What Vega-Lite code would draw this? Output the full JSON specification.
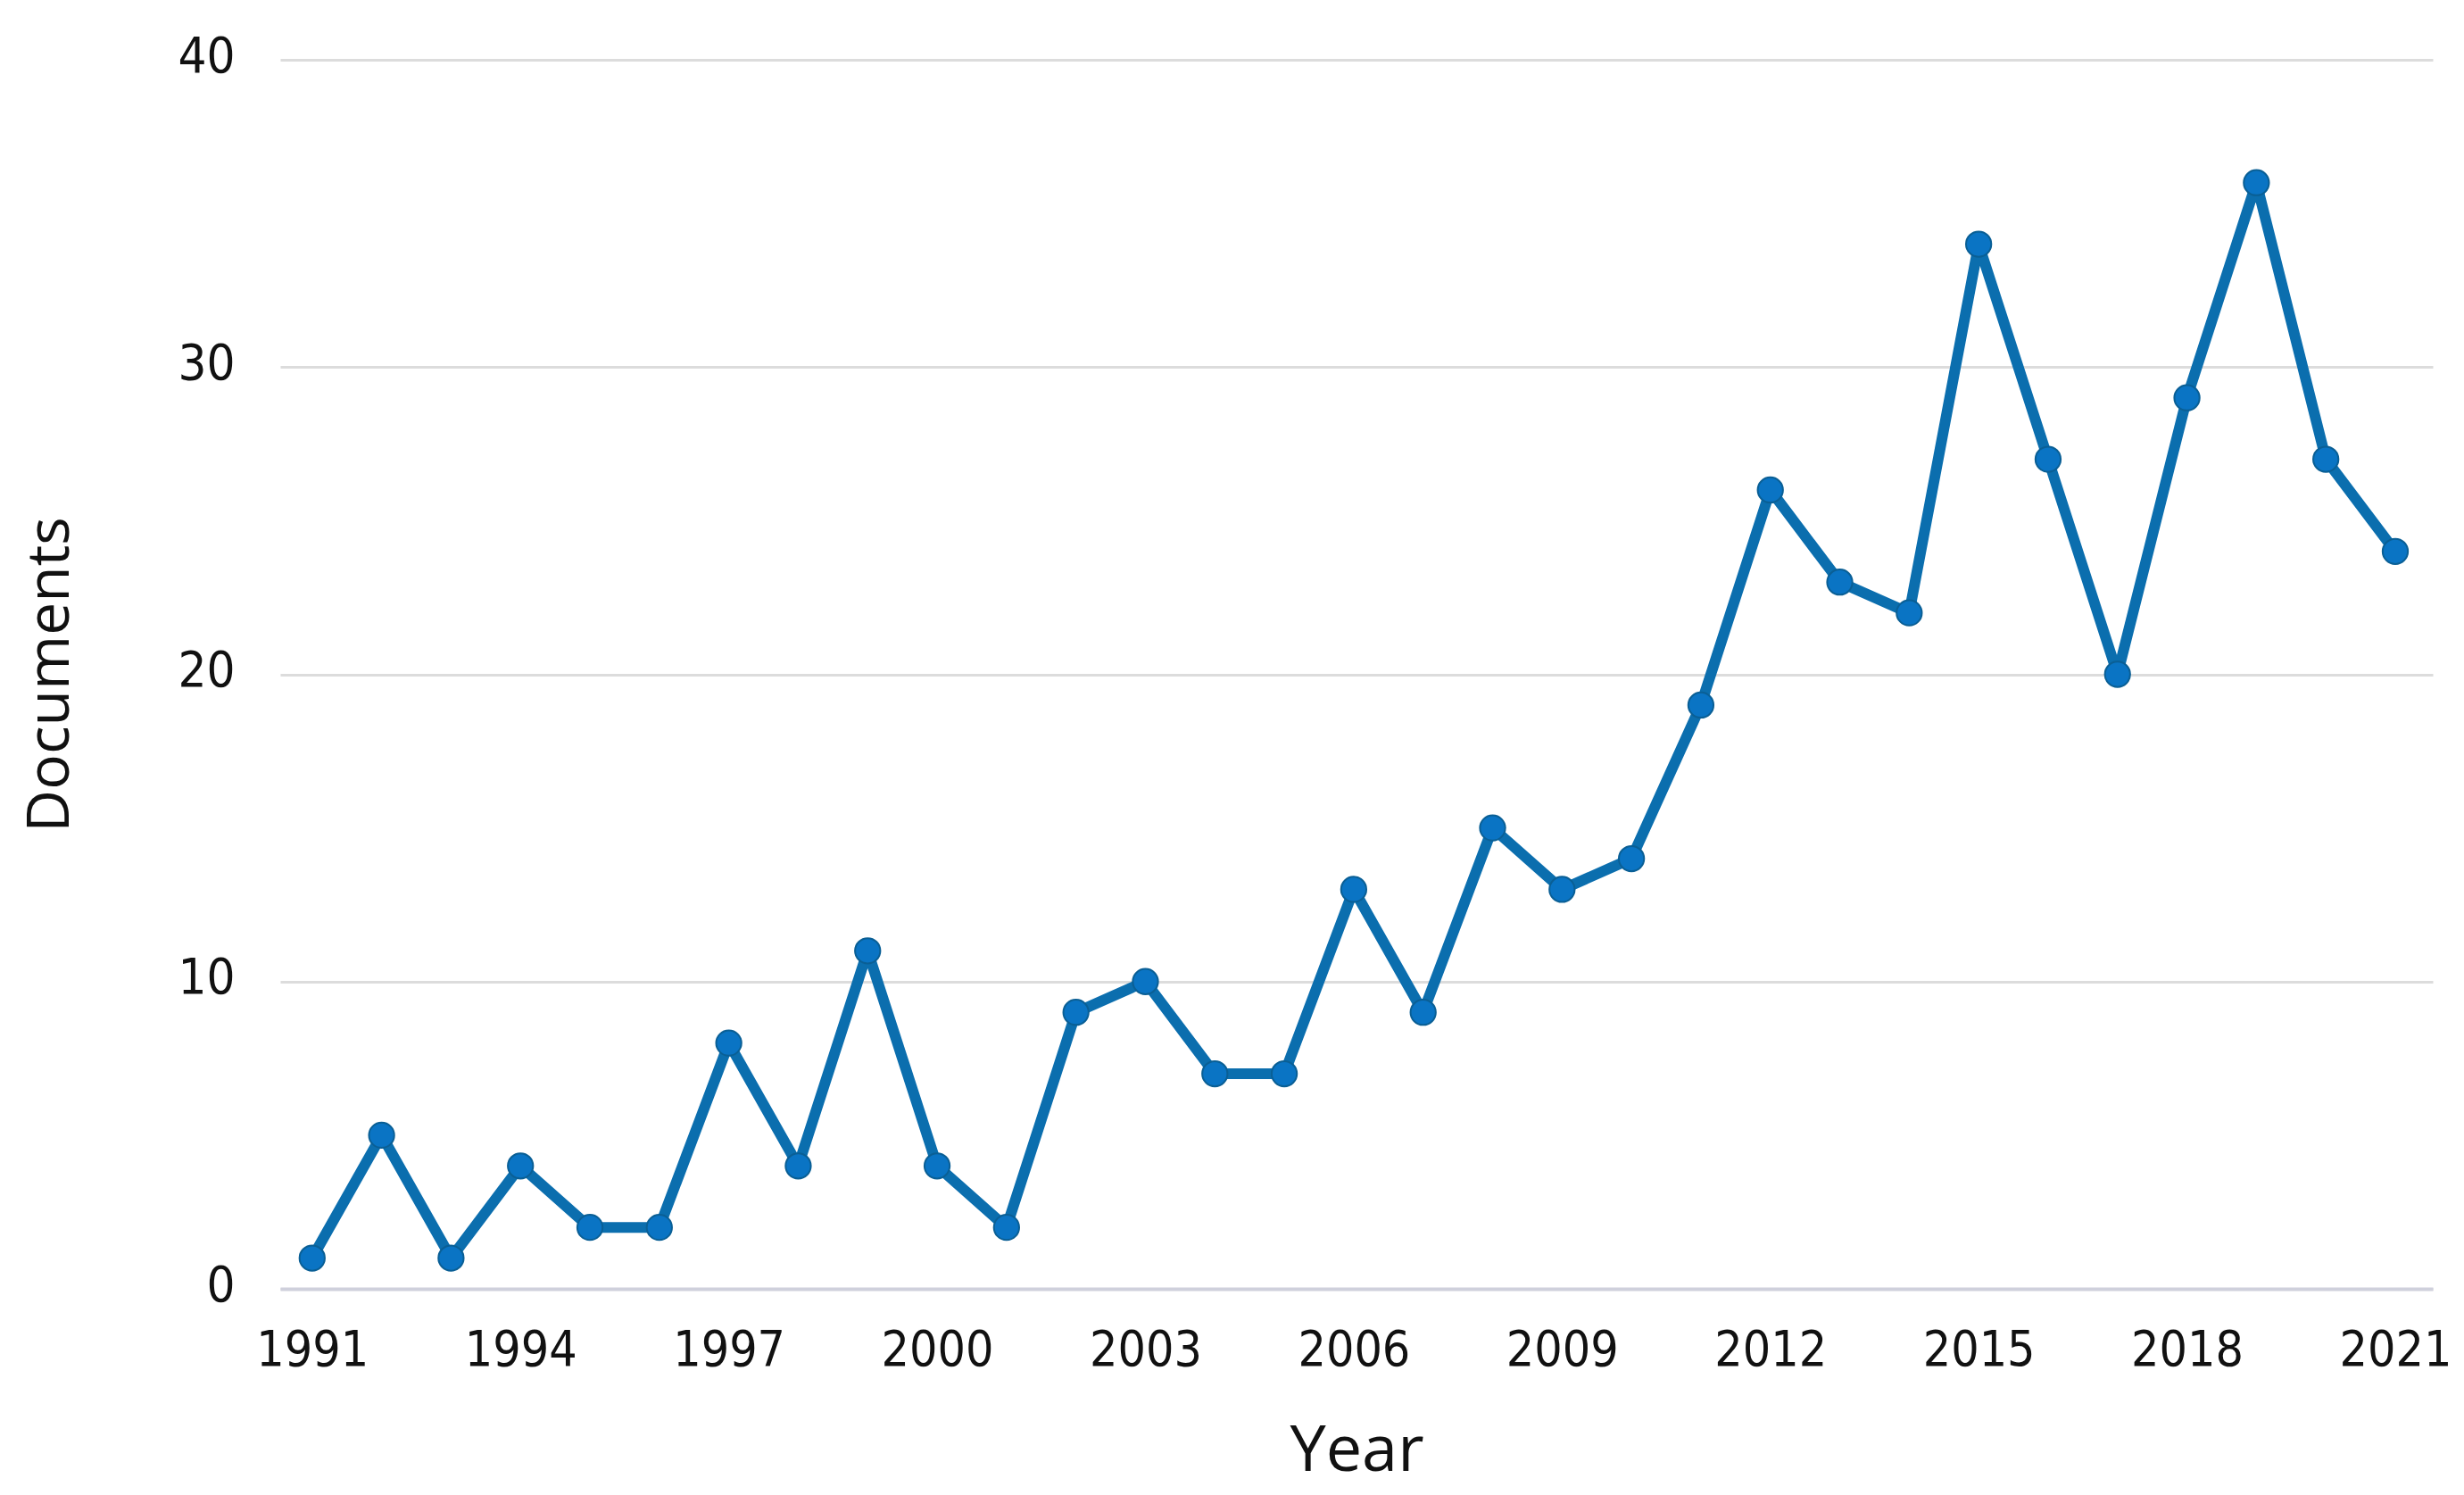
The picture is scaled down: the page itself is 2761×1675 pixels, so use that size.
{
  "$schema": "https://vega.github.io/schema/vega-lite/v6.json",
  "autosize": {"type": "none"},
  "width": 2412,
  "height": 1377,
  "padding": {"left": 314, "top": 67, "right": 35, "bottom": 231},
  "background": "white",
  "config": {
    "view": {"stroke": null},
    "axis": {"labelFont": "DejaVu Sans Condensed, sans-serif", "titleFont": "Open Sans, sans-serif", "labelColor": "#111111", "titleColor": "#111111", "titleFontWeight": "normal"}
  },
  "data": {
    "values": [
      {"year": 1991, "docs": 1}, {"year": 1992, "docs": 5}, {"year": 1993, "docs": 1},
      {"year": 1994, "docs": 4}, {"year": 1995, "docs": 2}, {"year": 1996, "docs": 2},
      {"year": 1997, "docs": 8}, {"year": 1998, "docs": 4}, {"year": 1999, "docs": 11},
      {"year": 2000, "docs": 4}, {"year": 2001, "docs": 2}, {"year": 2002, "docs": 9},
      {"year": 2003, "docs": 10}, {"year": 2004, "docs": 7}, {"year": 2005, "docs": 7},
      {"year": 2006, "docs": 13}, {"year": 2007, "docs": 9}, {"year": 2008, "docs": 15},
      {"year": 2009, "docs": 13}, {"year": 2010, "docs": 14}, {"year": 2011, "docs": 19},
      {"year": 2012, "docs": 26}, {"year": 2013, "docs": 23}, {"year": 2014, "docs": 22},
      {"year": 2015, "docs": 34}, {"year": 2016, "docs": 27}, {"year": 2017, "docs": 20},
      {"year": 2018, "docs": 29}, {"year": 2019, "docs": 36}, {"year": 2020, "docs": 27},
      {"year": 2021, "docs": 24}
    ]
  },
  "encoding": {
    "x": {
      "field": "year", "type": "quantitative",
      "scale": {"domain": [1990.54, 2021.54], "nice": false, "zero": false},
      "axis": {
        "values": [1991, 1994, 1997, 2000, 2003, 2006, 2009, 2012, 2015, 2018, 2021],
        "format": "d", "grid": false, "ticks": false,
        "domain": true, "domainColor": "#cfd0dc", "domainWidth": 4,
        "labelFontSize": 55, "labelPadding": 42, "labelBaseline": "top",
        "title": "Year", "titleFontSize": 72, "titlePadding": 50
      }
    },
    "y": {
      "field": "docs", "type": "quantitative",
      "scale": {"domain": [0, 40], "nice": false},
      "axis": {
        "values": [0, 10, 20, 30, 40],
        "grid": true, "gridColor": "#dcdcdc", "gridWidth": 3,
        "ticks": false, "domain": false,
        "labelFontSize": 56, "labelPadding": 51, "labelBaseline": "middle", "labelOffset": -4,
        "title": "Documents", "titleFontSize": 66, "titlePadding": 108
      }
    }
  },
  "layer": [
    {"mark": {"type": "line", "color": "#0b6eae", "strokeWidth": 12, "strokeJoin": "round"}},
    {"mark": {"type": "point", "filled": true, "fill": "#0a74c4", "stroke": "#0a5f95", "strokeWidth": 2, "opacity": 1, "size": 800}}
  ]
}
